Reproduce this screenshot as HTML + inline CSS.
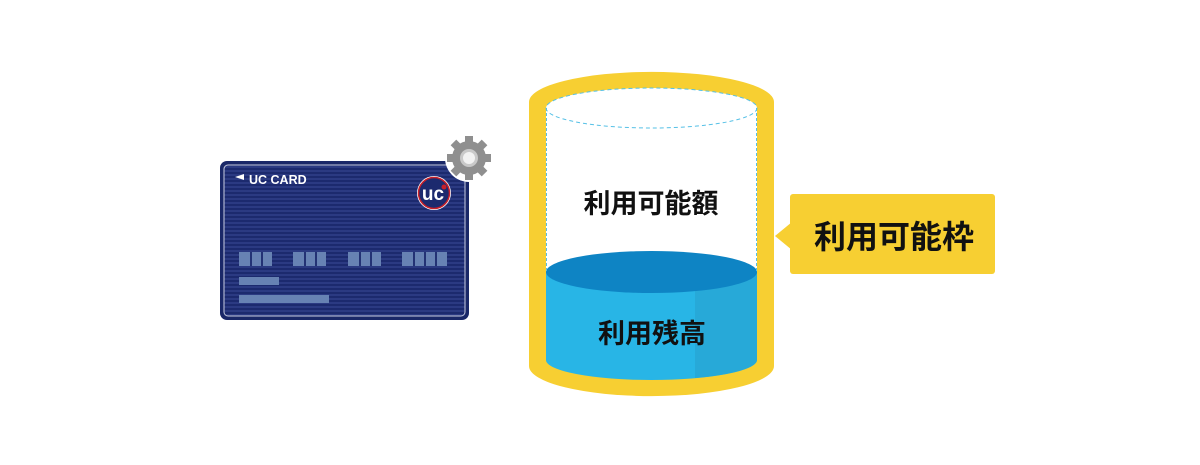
<!DOCTYPE html>
<html><head><meta charset="utf-8"><style>
body{margin:0;background:#fff;}
svg{display:block}
text{font-family:"Liberation Sans","Noto Sans CJK JP",sans-serif;font-weight:bold}
</style></head><body>
<svg width="1200" height="465" viewBox="0 0 1200 465">
<defs>
<pattern id="st" width="4" height="4" patternUnits="userSpaceOnUse">
<rect width="4" height="4" fill="#1c2a6e"/><rect y="2" width="4" height="2" fill="#2b3a82"/>
</pattern>
</defs>
<!-- card -->
<rect x="220" y="161" width="249" height="159" rx="7" fill="#1a2868"/>
<rect x="224" y="165" width="241" height="151" rx="4" fill="url(#st)" stroke="#c8cde0" stroke-width="1"/>
<polygon points="235,177 244,174 244,180" fill="#fff"/>
<text x="249" y="184" font-size="12.5" fill="#fff">UC CARD</text>
<circle cx="434" cy="193" r="17" fill="#fff"/>
<circle cx="434" cy="193" r="15.5" fill="#1c2a6e" stroke="#c8202a" stroke-width="1.5"/>
<text x="433" y="200" font-size="19" fill="#fff" text-anchor="middle">uc</text>
<circle cx="444" cy="187" r="2.5" fill="#c8202a"/>
<g fill="#6782b3">
<rect x="239" y="252" width="33" height="14"/><rect x="293" y="252" width="33" height="14"/>
<rect x="348" y="252" width="33" height="14"/><rect x="402" y="252" width="45" height="14"/>
<rect x="239" y="277" width="40" height="8"/><rect x="239" y="295" width="90" height="8"/>
</g>
<g fill="#1c2a6e" opacity=".9">
<rect x="250" y="252" width="2" height="14"/><rect x="261" y="252" width="2" height="14"/>
<rect x="304" y="252" width="2" height="14"/><rect x="315" y="252" width="2" height="14"/>
<rect x="359" y="252" width="2" height="14"/><rect x="370" y="252" width="2" height="14"/>
<rect x="413" y="252" width="2" height="14"/><rect x="424" y="252" width="2" height="14"/><rect x="435" y="252" width="2" height="14"/>
</g>
<!-- gear -->
<g transform="translate(469,158)">
<circle r="24" fill="#fff"/>
<g fill="#8f8f8f">
<circle r="17"/>
<g id="t"><rect x="-4" y="-22" width="8" height="8"/></g>
<use href="#t" transform="rotate(45)"/><use href="#t" transform="rotate(90)"/><use href="#t" transform="rotate(135)"/>
<use href="#t" transform="rotate(180)"/><use href="#t" transform="rotate(225)"/><use href="#t" transform="rotate(270)"/><use href="#t" transform="rotate(315)"/>
</g>
<circle r="9" fill="#c9c9c9"/><circle r="6" fill="#f2f2f2"/>
</g>
<!-- cylinder -->
<path d="M529,102 A122,30 0 0 1 774,102 L774,366 A122,30 0 0 1 529,366 Z" fill="#f7cf32"/>
<path d="M546,108 A105.5,20 0 0 1 757,108 L757,272 L546,272 Z" fill="#fff"/>
<path d="M546,272 L757,272 L757,360 A105.5,20 0 0 1 546,360 Z" fill="#28b5e6"/>
<path d="M695,272 L757,272 L757,360 A105.5,20 0 0 1 695,378 Z" fill="#27a9d8"/>
<ellipse cx="651.5" cy="272" rx="105.5" ry="21" fill="#0e84c4"/>
<ellipse cx="651.5" cy="108" rx="105.5" ry="20" fill="none" stroke="#55c0e6" stroke-width="1" stroke-dasharray="4,3"/>
<line x1="546.5" y1="108" x2="546.5" y2="272" stroke="#55c0e6" stroke-dasharray="3,2"/>
<line x1="756.5" y1="108" x2="756.5" y2="272" stroke="#55c0e6" stroke-dasharray="3,2"/>
<text x="651" y="213" font-size="27" fill="#111" text-anchor="middle">利用可能額</text>
<text x="652" y="343" font-size="27" fill="#111" text-anchor="middle">利用残高</text>
<!-- callout -->
<rect x="790" y="194" width="205" height="80" rx="3" fill="#f7cf32"/>
<polygon points="775,236 792,222 792,250" fill="#f7cf32"/>
<text x="894" y="248" font-size="32" fill="#111" text-anchor="middle">利用可能枠</text>
</svg>
</body></html>
